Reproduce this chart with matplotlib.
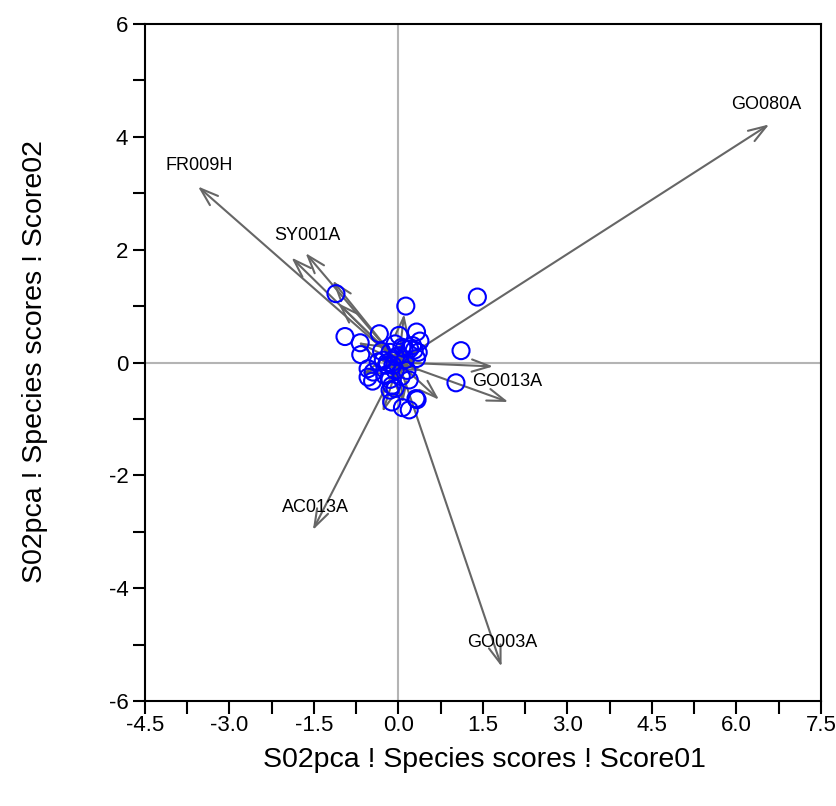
import numpy as np
import matplotlib
matplotlib.use("Agg")
import matplotlib.pyplot as plt
from matplotlib.ticker import MultipleLocator

plt.rcParams["font.family"] = ["Liberation Sans", "DejaVu Sans"]

# ---------------------------------------------------------------------------
# Data: site scores (circles) and species vectors (arrows from origin)
# ---------------------------------------------------------------------------

site_x = [-1.11, 0.13, -0.95, -0.34, -0.68, -0.67, 0.01, 0.32, 0.38, -0.06,
          0.06, 0.20, 0.35, 0.32, -0.15, -0.27, -0.36, -0.54, -0.45, -0.54,
          -0.46, -0.24, -0.06, 0.15, 0.19, -0.12, -0.06, -0.15, -0.12, 0.07,
          0.19, 0.31, 0.33, -0.21, 1.40, 1.11, 1.02, 0.00, 0.12, -0.10,
          0.25, -0.30, -0.20, 0.05, -0.15, 0.28, 0.10, -0.05]
site_y = [1.22, 1.00, 0.46, 0.51, 0.35, 0.14, 0.48, 0.54, 0.38, 0.33,
          0.27, 0.24, 0.18, 0.07, 0.18, 0.04, 0.01, -0.11, -0.17, -0.26,
          -0.33, -0.23, -0.14, -0.14, -0.31, -0.41, -0.46, -0.49, -0.70, -0.80,
          -0.84, -0.64, -0.66, -0.05, 1.16, 0.21, -0.36, 0.12, 0.05, -0.05,
          0.30, 0.20, 0.00, -0.25, -0.30, 0.22, 0.25, 0.10]

# species vectors: tip coordinates
spp_x = [6.58, -3.56, -1.90, -1.65, -1.17, -1.07, 1.68, 1.95, 0.72, 0.10,
         -0.28, -1.52, 1.83, -0.66, -0.72, 0.08,
         0.30, -0.22, 0.22, -0.30, 0.12, -0.15, 0.35, -0.35, 0.05, -0.05,
         0.25, -0.25, 0.40, 0.15]
spp_y = [4.22, 3.12, 1.86, 1.94, 1.45, 1.05, -0.07, -0.70, -0.66, 0.86,
         -0.88, -2.97, -5.39, -0.20, 0.36, -0.72,
         0.22, 0.20, -0.22, -0.10, 0.30, -0.28, 0.05, 0.05, 0.35, -0.35,
         -0.10, 0.12, -0.15, 0.15]

# labelled species: name and label position
label_names = ["GO080A", "FR009H", "SY001A", "GO013A", "AC013A", "GO003A"]
label_x = [6.52, -3.54, -1.61, 1.93, -1.48, 1.84]
label_y = [4.57, 3.49, 2.25, -0.34, -2.57, -4.96]

x_ticks = [-4.5, -3.0, -1.5, 0.0, 1.5, 3.0, 4.5, 6.0, 7.5]
y_ticks = [-6, -4, -2, 0, 2, 4, 6]

# ---------------------------------------------------------------------------
# Plot
# ---------------------------------------------------------------------------

fig = plt.figure(figsize=(8.37, 8.06), dpi=100, facecolor="white")
ax = fig.add_axes([145 / 837, 1 - 701 / 806, 676 / 837, 677 / 806])
ax.set_xlim(-4.5, 7.5)
ax.set_ylim(-6, 6)

ax.axhline(0, color="#b4b4b4", lw=1.5, zorder=1)
ax.axvline(0, color="#b4b4b4", lw=1.5, zorder=1)

for tx, ty in zip(spp_x, spp_y):
    ax.annotate("", xy=(tx, ty), xytext=(0, 0), zorder=2,
                arrowprops=dict(arrowstyle="->,head_length=0.65,head_width=0.22",
                                color="#666666", lw=1.5, mutation_scale=20,
                                shrinkA=0, shrinkB=0))

ax.scatter(site_x, site_y, s=150, facecolors="none", edgecolors="#0000ff",
           linewidths=1.5, zorder=3)

for name, lx, ly in zip(label_names, label_x, label_y):
    ax.text(lx, ly, name, fontsize=13, ha="center", va="center", color="black", zorder=4)

ax.set_xticks(x_ticks)
ax.set_xticklabels([f"{v:.1f}" for v in x_ticks])
ax.set_yticks(y_ticks)
ax.set_yticklabels([str(v) for v in y_ticks])
ax.xaxis.set_minor_locator(MultipleLocator(0.75))
ax.yaxis.set_minor_locator(MultipleLocator(1))
ax.tick_params(which="both", direction="out", length=9, width=1.5,
               top=False, right=False, labelsize=16, colors="black")
ax.tick_params(axis="x", pad=1)
ax.tick_params(axis="y", pad=3)

for sp in ax.spines.values():
    sp.set_linewidth(1.5)
    sp.set_color("black")

fig.text(484 / 837, 1 - 760 / 806, "S02pca ! Species scores ! Score01",
         fontsize=20.5, ha="center", va="center")
fig.text(35 / 837, 1 - 362 / 806, "S02pca ! Species scores ! Score02",
         fontsize=20.5, ha="center", va="center", rotation=90)

fig.savefig("out.png", dpi=100, facecolor="white")
